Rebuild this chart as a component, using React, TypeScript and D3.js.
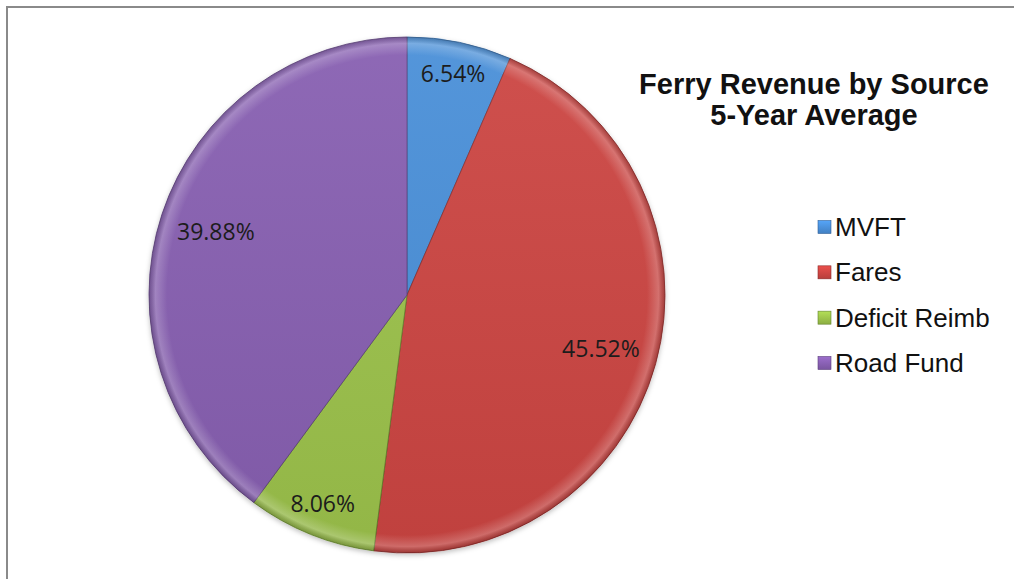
import React from "react";
import * as d3 from "d3";

const categories = ["MVFT", "Fares", "Deficit Reimb", "Road Fund"];
const shares = [6.54, 45.52, 8.06, 39.88];
const labels = ["6.54%", "45.52%", "8.06%", "39.88%"];
const colors = ["#4a8fd8", "#cc4542", "#9cc24b", "#875fb1"];
const edges = ["#2f5f96", "#8a2a28", "#62832b", "#5a3d7a"];
const titleLines = ["Ferry Revenue by Source", "5-Year Average"];

const W = 1014, H = 579;
const cx = 407, cy = 295, R = 258;

export default function App() {
  const pie = d3.pie<number>().sort(null).value(d => d).startAngle(0).endAngle(2 * Math.PI);
  const arcs = pie(shares);
  const arc = d3.arc<d3.PieArcDatum<number>>().innerRadius(0).outerRadius(R);
  // Excel "best fit": small slices get the label pushed toward the rim
  const labelArc = (d: d3.PieArcDatum<number>) => {
    const r = d.data < 10 ? R * 0.875 : R * 0.78;
    return d3.arc<d3.PieArcDatum<number>>().innerRadius(r).outerRadius(r).centroid(d);
  };
  const legendY = d3.scalePoint<string>().domain(categories).range([227, 363]);

  return (
    <svg width={W} height={H} style={{ position: "absolute", left: 0, top: 0 }}
      fontFamily="'Liberation Sans', Arial, sans-serif">
      <defs>
        <radialGradient id="bevel" cx="0.5" cy="0.5" r="0.5">
          <stop offset="0.93" stopColor="#fff" stopOpacity="0" />
          <stop offset="0.975" stopColor="#fff" stopOpacity="0.22" />
          <stop offset="1" stopColor="#000" stopOpacity="0.18" />
        </radialGradient>
        <linearGradient id="shade" x1="0" y1="0" x2="0" y2="1">
          <stop offset="0" stopColor="#fff" stopOpacity="0.06" />
          <stop offset="1" stopColor="#000" stopOpacity="0.06" />
        </linearGradient>
        <filter id="shadow" x="-10%" y="-10%" width="120%" height="120%">
          <feDropShadow dx="0" dy="2" stdDeviation="2.5" floodColor="#000" floodOpacity="0.25" />
        </filter>
        {colors.map((c, i) => (
          <linearGradient key={i} id={`lg${i}`} x1="0" y1="0" x2="0" y2="1">
            <stop offset="0" stopColor={d3.color(c)!.brighter(0.4).toString()} />
            <stop offset="1" stopColor={d3.color(c)!.darker(0.3).toString()} />
          </linearGradient>
        ))}
      </defs>
      <rect x={7} y={7} width={W} height={H} fill="#fff" stroke="#8a8a8a" strokeWidth={2} />

      <g transform={`translate(${cx},${cy})`}>
        <g filter="url(#shadow)">
          {arcs.map((d, i) => (
            <path key={i} d={arc(d)!} fill={colors[i]} stroke={edges[i]} strokeWidth={0.8} />
          ))}
        </g>
        <circle r={R} fill="url(#shade)" />
        <circle r={R} fill="url(#bevel)" />
        {arcs.map((d, i) => {
          const [x, y] = labelArc(d);
          return (
            <text key={i} x={x} y={y} dy="0.35em" textAnchor="middle"
              fontFamily="'Open Sans', sans-serif" fontSize={23} fill="#1c1c1c">
              {labels[i]}
            </text>
          );
        })}
      </g>

      <g fontWeight="bold" fontSize={29} fill="#111" textAnchor="middle">
        {titleLines.map((t, i) => (
          <text key={i} x={814} y={94 + i * 31}>{t}</text>
        ))}
      </g>

      <g>
        {categories.map((c, i) => (
          <g key={c} transform={`translate(0,${legendY(c)})`}>
            <rect x={818} y={-6.5} width={13} height={13} fill={`url(#lg${i})`} stroke={edges[i]} strokeWidth={0.6} />
            <text x={835} y={9} fontSize={26} fill="#111">{c}</text>
          </g>
        ))}
      </g>
    </svg>
  );
}
